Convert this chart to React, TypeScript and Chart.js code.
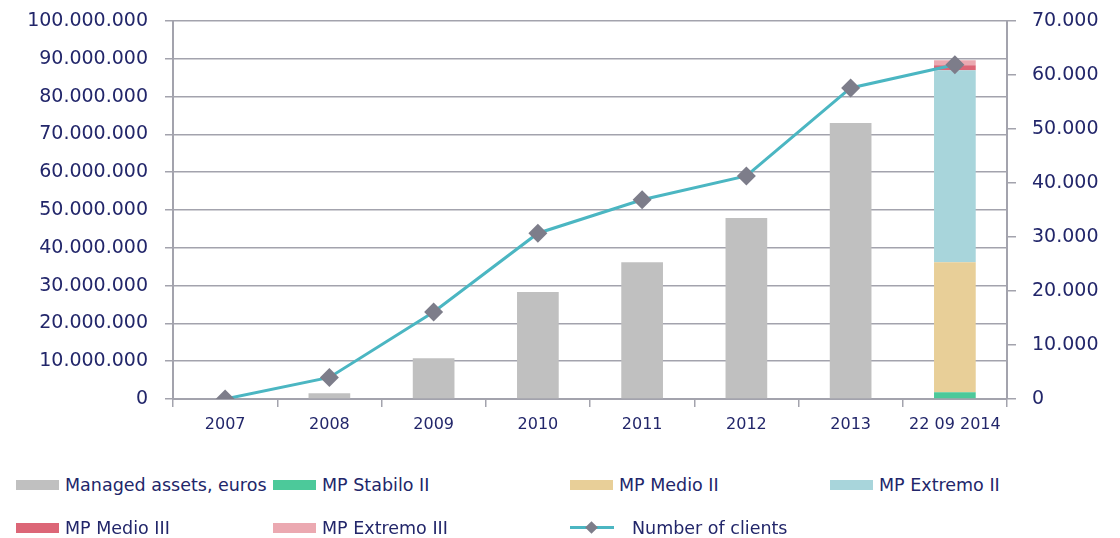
import React, { useEffect, useRef } from 'react';
import { Chart, registerables } from 'chart.js';

Chart.register(...registerables);

const categories = ['2007', '2008', '2009', '2010', '2011', '2012', '2013', '22 09 2014'];
const managedAssets = [0, 1500000, 10800000, 28300000, 36200000, 47900000, 73000000, null];
const mpStabiloII = [null, null, null, null, null, null, null, 1800000];
const mpMedioII = [null, null, null, null, null, null, null, 34400000];
const mpExtremoII = [null, null, null, null, null, null, null, 50800000];
const mpMedioIII = [null, null, null, null, null, null, null, 1300000];
const mpExtremoIII = [null, null, null, null, null, null, null, 1300000];
const numberOfClients = [0, 4000, 16100, 30700, 36900, 41300, 57600, 61900];

const leftMax = 100000000;
const leftStep = 10000000;
const rightMax = 70000;
const rightStep = 10000;

const COLORS = {
  managed: '#c0c0c0',
  stabilo: '#4cc99a',
  medio2: '#e8cf98',
  extremo2: '#a8d5db',
  medio3: '#dc6677',
  extremo3: '#eba9b1',
  line: '#4bb6c2',
  marker: '#7d7d8a',
  grid: '#a3a3ad',
  text: '#22266a',
};

const fmt = (v: number) => String(Math.round(v)).replace(/\B(?=(\d{3})+(?!\d))/g, '.');

const legendItems = [
  { label: 'Managed assets, euros', color: COLORS.managed, type: 'box' },
  { label: 'MP Stabilo II', color: COLORS.stabilo, type: 'box' },
  { label: 'MP Medio II', color: COLORS.medio2, type: 'box' },
  { label: 'MP Extremo II', color: COLORS.extremo2, type: 'box' },
  { label: 'MP Medio III', color: COLORS.medio3, type: 'box' },
  { label: 'MP Extremo III', color: COLORS.extremo3, type: 'box' },
  { label: 'Number of clients', color: COLORS.line, type: 'line' },
];

export default function App() {
  const ref = useRef<HTMLCanvasElement | null>(null);

  useEffect(() => {
    if (!ref.current) return;
    const barCommon = {
      type: 'bar' as const,
      yAxisID: 'y',
      order: 2,
      barPercentage: 0.4,
      categoryPercentage: 1,
      borderWidth: 0,
    };
    const chart = new Chart(ref.current, {
      type: 'bar',
      data: {
        labels: categories,
        datasets: [
          {
            type: 'line',
            label: 'Number of clients',
            data: numberOfClients,
            yAxisID: 'y2',
            order: 0,
            borderColor: COLORS.line,
            borderWidth: 3,
            pointStyle: 'rectRot',
            pointRadius: 9.5,
            pointBackgroundColor: COLORS.marker,
            pointBorderColor: COLORS.marker,
            pointBorderWidth: 0,
            tension: 0,
            stack: 'line',
          } as any,
          { ...barCommon, label: 'Managed assets, euros', data: managedAssets, backgroundColor: COLORS.managed },
          { ...barCommon, label: 'MP Stabilo II', data: mpStabiloII, backgroundColor: COLORS.stabilo },
          { ...barCommon, label: 'MP Medio II', data: mpMedioII, backgroundColor: COLORS.medio2 },
          { ...barCommon, label: 'MP Extremo II', data: mpExtremoII, backgroundColor: COLORS.extremo2 },
          { ...barCommon, label: 'MP Medio III', data: mpMedioIII, backgroundColor: COLORS.medio3 },
          { ...barCommon, label: 'MP Extremo III', data: mpExtremoIII, backgroundColor: COLORS.extremo3 },
        ] as any,
      },
      options: {
        animation: false,
        responsive: false,
        maintainAspectRatio: false,
        layout: { padding: { top: 21, right: 0, left: 0, bottom: 0 } },
        plugins: {
          legend: { display: false },
          tooltip: { enabled: false },
        },
        scales: {
          x: {
            stacked: true,
            offset: true,
            grid: {
              offset: true,
              drawOnChartArea: false,
              drawTicks: true,
              tickLength: 8,
              color: COLORS.grid,
              lineWidth: 1.5,
            },
            border: { display: true, color: COLORS.grid, width: 2 },
            ticks: {
              color: COLORS.text,
              font: { family: 'DejaVu Sans', size: 16 },
              padding: 8,
              maxRotation: 0,
              autoSkip: false,
            },
            afterFit: (axis: any) => {
              axis.height = 41;
              axis.paddingLeft = 0;
              axis.paddingRight = 0;
            },
          },
          y: {
            stacked: true,
            position: 'left',
            min: 0,
            max: leftMax,
            grid: {
              drawOnChartArea: true,
              tickLength: 8,
              color: COLORS.grid,
              lineWidth: 1.5,
            },
            border: { display: true, color: COLORS.grid, width: 2 },
            ticks: {
              stepSize: leftStep,
              color: COLORS.text,
              font: { family: 'DejaVu Sans', size: 19 },
              padding: 17,
              callback: (v: any) => fmt(Number(v)),
            },
            afterFit: (axis: any) => {
              axis.width = 173;
              axis.paddingTop = 0;
              axis.paddingBottom = 0;
            },
          },
          y2: {
            stacked: false,
            position: 'right',
            min: 0,
            max: rightMax,
            grid: {
              drawOnChartArea: false,
              tickLength: 9,
              color: COLORS.grid,
              lineWidth: 1.5,
            },
            border: { display: true, color: COLORS.grid, width: 2 },
            ticks: {
              stepSize: rightStep,
              color: COLORS.text,
              font: { family: 'DejaVu Sans', size: 19 },
              padding: 16,
              callback: (v: any) => fmt(Number(v)),
            },
            afterFit: (axis: any) => {
              axis.width = 113;
              axis.paddingTop = 0;
              axis.paddingBottom = 0;
            },
          },
        },
      } as any,
    });
    return () => chart.destroy();
  }, []);

  const colLeft = [16, 273, 570, 830];
  const rows = [
    [0, 1, 2, 3],
    [4, 5, 6],
  ];

  return (
    <div style={{ position: 'fixed', left: 0, top: 0, width: 1120, height: 538, background: '#fff' }}>
      <canvas ref={ref} width={1120} height={440} style={{ display: 'block', width: 1120, height: 440 }} />
      {rows.map((row, ri) =>
        row.map((idx, ci) => {
          const it = legendItems[idx];
          const top = ri === 0 ? 474 : 517;
          return (
            <div
              key={idx}
              style={{
                position: 'absolute',
                left: colLeft[ci],
                top,
                height: 22,
                display: 'flex',
                alignItems: 'center',
                fontFamily: 'DejaVu Sans',
                fontSize: 17.5,
                color: COLORS.text,
                whiteSpace: 'nowrap',
              }}
            >
              {it.type === 'box' ? (
                <span style={{ display: 'inline-block', width: 43, height: 10, background: it.color, marginRight: 6 }} />
              ) : (
                <span style={{ position: 'relative', display: 'inline-block', width: 44, height: 14, marginRight: 18 }}>
                  <span style={{ position: 'absolute', left: 0, top: 5, width: 44, height: 3, background: it.color }} />
                  <span
                    style={{
                      position: 'absolute',
                      left: 17,
                      top: 2,
                      width: 9,
                      height: 9,
                      background: COLORS.marker,
                      transform: 'rotate(45deg)',
                    }}
                  />
                </span>
              )}
              <span>{it.label}</span>
            </div>
          );
        })
      )}
    </div>
  );
}
